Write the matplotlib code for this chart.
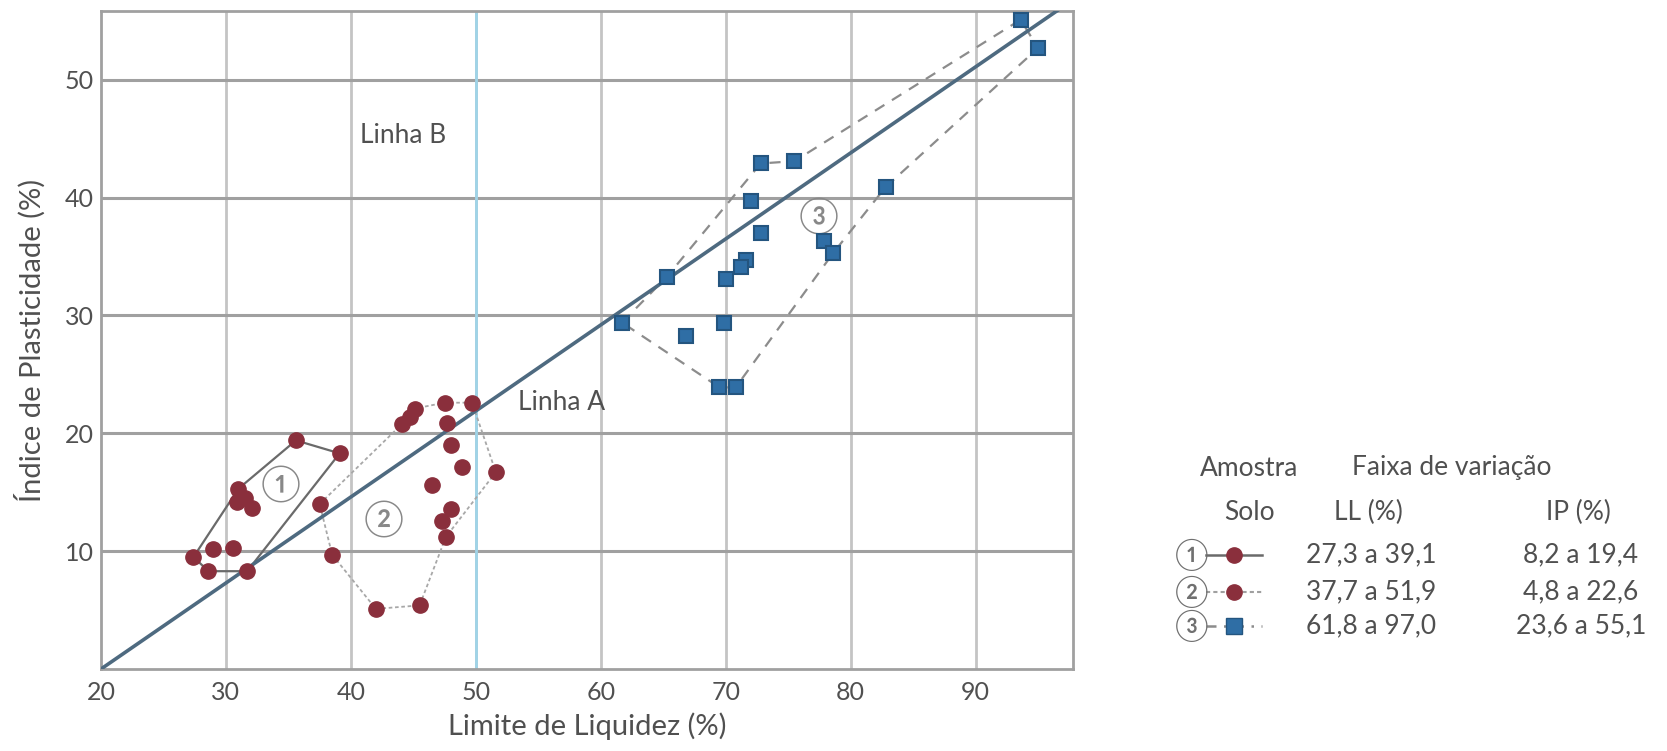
import matplotlib.pyplot as plt
from matplotlib.lines import Line2D
import numpy as np

plt.rcParams['font.family'] = ['Lato', 'DejaVu Sans']

# Solo 1 (LL, IP)
solo1_ll = [27.4, 29.0, 30.6, 28.6, 31.7, 31.0, 30.9, 31.5, 32.1, 35.6, 39.1]
solo1_ip = [9.5, 10.2, 10.3, 8.3, 8.3, 15.3, 14.2, 14.5, 13.7, 19.4, 18.3]
solo1_hull = [0, 5, 9, 10, 4, 3, 0]

# Solo 2
solo2_ll = [37.5, 38.5, 42.0, 45.5, 47.6, 47.3, 48.0, 46.5, 48.9, 48.0, 47.7,
            47.5, 49.7, 51.6, 44.1, 44.7, 45.1]
solo2_ip = [14.0, 9.7, 5.1, 5.4, 11.2, 12.6, 13.6, 15.6, 17.1, 19.0, 20.9,
            22.6, 22.6, 16.7, 20.8, 21.4, 22.1]
solo2_hull = [0, 14, 16, 11, 12, 13, 4, 3, 2, 1, 0]

# Solo 3
solo3_ll = [72.8, 75.5, 72.0, 72.8, 71.6, 71.2, 70.0, 65.3, 61.7, 66.8, 69.9,
            69.5, 70.8, 77.9, 78.6, 82.8, 93.6, 95.0]
solo3_ip = [42.9, 43.1, 39.7, 37.0, 34.7, 34.1, 33.1, 33.3, 29.4, 28.3, 29.4,
            23.9, 23.9, 36.3, 35.3, 40.9, 55.1, 52.7]
solo3_hull = [8, 7, 0, 1, 16, 17, 15, 14, 12, 11, 8]

x_ticks = [20, 30, 40, 50, 60, 70, 80, 90]
y_ticks = [10, 20, 30, 40, 50]

legend_rows = [
    ('①', '27,3 a 39,1', '8,2 a 19,4'),
    ('②', '37,7 a 51,9', '4,8 a 22,6'),
    ('③', '61,8 a 97,0', '23,6 a 55,1'),
]

red = '#8a2f3c'
blue = '#2f6ea5'
txt = '#505050'

fig = plt.figure(figsize=(16.67, 7.51), dpi=100)
ax = fig.add_axes([0.0606, 0.1092, 0.5831, 0.8755])
ax.set_xlim(20, 97.8)
ax.set_ylim(0, 55.8)

# grid
for xv in x_ticks[1:]:
    ax.axvline(xv, color='#c4c4c4', lw=2, zorder=1)
for yv in y_ticks:
    ax.axhline(yv, color='#a0a0a0', lw=2.2, zorder=1)

# Linha B
ax.axvline(50, color='#9fd4e8', lw=2, zorder=2)
# Linha A
xa = np.array([20, 97.8])
ax.plot(xa, 0.73 * (xa - 20), color='#4e6a80', lw=2.6, zorder=3)

# outlines
h1 = solo1_hull
ax.plot([solo1_ll[i] for i in h1], [solo1_ip[i] for i in h1],
        color='#6a6a6a', lw=1.6, zorder=2)
h2 = solo2_hull
ax.plot([solo2_ll[i] for i in h2], [solo2_ip[i] for i in h2],
        color='#a8a8a8', lw=1.3, ls=(0, (2, 1.5)), zorder=2)
h3 = solo3_hull
ax.plot([solo3_ll[i] for i in h3], [solo3_ip[i] for i in h3],
        color='#8c8c8c', lw=1.6, ls=(0, (5, 4)), zorder=2)

# points
ax.plot(solo1_ll, solo1_ip, 'o', color=red, ms=11, mec=red, zorder=4)
ax.plot(solo2_ll, solo2_ip, 'o', color=red, ms=11, mec=red, zorder=4)
ax.plot(solo3_ll, solo3_ip, 's', color=blue, ms=10, mec='#24557f', mew=1.5, zorder=4)

# annotations
ax.text(44.2, 45.3, 'Linha B', color=txt, fontsize=19, ha='center', va='center')
ax.text(56.9, 22.6, 'Linha A', color=txt, fontsize=19, ha='center', va='center')
ax.text(34.4, 15.7, '①', color='#888888', fontsize=26, ha='center', va='center')
ax.text(42.6, 12.8, '②', color='#888888', fontsize=26, ha='center', va='center')
ax.text(77.4, 38.5, '③', color='#888888', fontsize=26, ha='center', va='center')

ax.set_xticks(x_ticks)
ax.set_yticks(y_ticks)
ax.tick_params(length=0, labelsize=18, labelcolor=txt)
ax.tick_params(axis='x', pad=9)
ax.tick_params(axis='y', pad=5)
for s in ax.spines.values():
    s.set_color('#a0a0a0')
    s.set_linewidth(2)
ax.set_xlabel('Limite de Liquidez (%)', fontsize=21, color=txt, labelpad=6)
ax.set_ylabel('Índice de Plasticidade (%)', fontsize=21, color=txt, labelpad=14)

# legend table
W, H = 1667, 751


def fx(x):
    return x / W


def fy(y):
    return 1 - y / H


fs = 19
fig.text(fx(1249), fy(468), 'Amostra', fontsize=fs, color=txt, ha='center', va='center')
fig.text(fx(1249), fy(512), 'Solo', fontsize=fs, color=txt, ha='center', va='center')
fig.text(fx(1452), fy(468), 'Faixa de variação', fontsize=fs, color=txt, ha='center', va='center')
fig.text(fx(1368), fy(512), 'LL (%)', fontsize=fs, color=txt, ha='center', va='center')
fig.text(fx(1578), fy(512), 'IP (%)', fontsize=fs, color=txt, ha='center', va='center')

row_y = [555, 592, 626]
styles = [
    dict(ls='-', color='#6a6a6a', lw=1.8),
    dict(ls=(0, (2, 1.5)), color='#a0a0a0', lw=1.5),
    dict(ls=(0, (4, 3, 1, 3)), color='#8c8c8c', lw=1.8),
]
marks = [('o', red, red), ('o', red, red), ('s', blue, '#24557f')]
for (num, ll, ip), yy, st, mk in zip(legend_rows, row_y, styles, marks):
    fig.text(fx(1192), fy(yy), num, fontsize=22, color='#707070', ha='center', va='center')
    fig.add_artist(Line2D([fx(1206), fx(1262)], [fy(yy), fy(yy)],
                          transform=fig.transFigure, **st))
    fig.add_artist(Line2D([fx(1234)], [fy(yy)], transform=fig.transFigure,
                          marker=mk[0], color=mk[1], mec=mk[2], ms=11, ls='none'))
    fig.text(fx(1371), fy(yy), ll, fontsize=fs, color=txt, ha='center', va='center')
    fig.text(fx(1581), fy(yy), ip, fontsize=fs, color=txt, ha='center', va='center')

fig.savefig('out.png', dpi=100)
